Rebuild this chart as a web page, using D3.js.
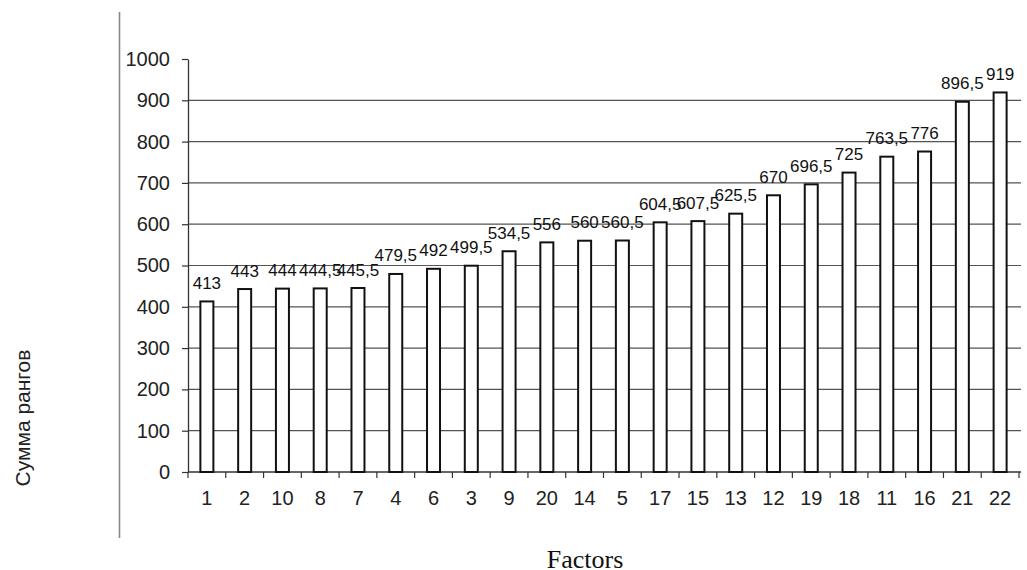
<!DOCTYPE html>
<html>
<head>
<meta charset="utf-8">
<script src="https://d3js.org/d3.v7.min.js"></script>
<style>
  body { margin: 0; background: #fff; }
  svg { display: block; }
</style>
</head>
<body>
<svg id="chart" width="1027" height="570"></svg>
<script>
// Factor numbers, ordered by rank sum
const factors = ["1","2","10","8","7","4","6","3","9","20","14","5","17","15","13","12","19","18","11","16","21","22"];
// Rank sums for each factor
const rankSums = [413, 443, 444, 444.5, 445.5, 479.5, 492, 499.5, 534.5, 556, 560, 560.5, 604.5, 607.5, 625.5, 670, 696.5, 725, 763.5, 776, 896.5, 919];
// Value-axis ticks
const yTicks = [0, 100, 200, 300, 400, 500, 600, 700, 800, 900, 1000];

const svg = d3.select("#chart");
const plotLeft = 188, plotRight = 1019, plotTop = 59, plotBottom = 472;
const sans = "Liberation Sans, Arial, sans-serif";

const x = d3.scaleBand().domain(factors).range([plotLeft, plotRight]);
const y = d3.scaleLinear().domain([0, 1000]).range([plotBottom, plotTop]);
const cx = f => x(f) + x.bandwidth() / 2;

const fmt = v => String(v).replace(".", ",");

// Outer frame line on the left
svg.append("line")
  .attr("x1", 119.5).attr("x2", 119.5).attr("y1", 12).attr("y2", 538)
  .attr("stroke", "#888").attr("stroke-width", 1.6);

// Horizontal gridlines
svg.append("g").selectAll("line").data(yTicks.filter(t => t > 0 && t < 1000)).join("line")
  .attr("x1", plotLeft).attr("x2", plotRight + 2)
  .attr("y1", d => y(d)).attr("y2", d => y(d))
  .attr("stroke", "#555").attr("stroke-width", 1.2);

// Y axis
const yAxis = d3.axisLeft(y).tickValues(yTicks).tickSize(6).tickSizeOuter(0).tickPadding(12).tickFormat(d3.format("d"));
const gy = svg.append("g").attr("transform", `translate(${plotLeft},0)`).call(yAxis);
gy.select(".domain").attr("stroke", "#333").attr("stroke-width", 1.3);
gy.selectAll(".tick line").attr("stroke", "#333").attr("stroke-width", 1.2);
gy.selectAll("text").attr("font-family", sans)
  .attr("font-size", 20).attr("fill", "#222");

// Baseline
svg.append("line")
  .attr("x1", plotLeft).attr("x2", plotRight + 2).attr("y1", y(0)).attr("y2", y(0))
  .attr("stroke", "#333").attr("stroke-width", 1.3);

// Category tick marks at band edges
const edges = factors.map(f => x(f)).concat([plotRight]);
svg.append("g").selectAll("line").data(edges).join("line")
  .attr("x1", d => d).attr("x2", d => d)
  .attr("y1", y(0)).attr("y2", y(0) + 6)
  .attr("stroke", "#333").attr("stroke-width", 1.2);

// Category labels
svg.append("g").selectAll("text").data(factors).join("text")
  .attr("x", d => cx(d))
  .attr("y", 505)
  .attr("text-anchor", "middle")
  .attr("font-family", sans)
  .attr("font-size", 20).attr("fill", "#222")
  .text(d => d);

// Bars
svg.append("g").selectAll("rect").data(rankSums).join("rect")
  .attr("x", (d, i) => cx(factors[i]) - 6.5)
  .attr("width", 13)
  .attr("y", d => y(d))
  .attr("height", d => y(0) - y(d))
  .attr("fill", "#fff").attr("stroke", "#111").attr("stroke-width", 2);

// Value labels
svg.append("g").selectAll("text").data(rankSums).join("text")
  .attr("x", (d, i) => cx(factors[i]))
  .attr("y", d => y(d) - 12.5)
  .attr("text-anchor", "middle")
  .attr("font-family", sans)
  .attr("font-size", 17).attr("fill", "#111")
  .text(d => fmt(d));

// Axis titles
svg.append("text")
  .attr("transform", "translate(30,418) rotate(-90)")
  .attr("text-anchor", "middle")
  .attr("font-family", sans)
  .attr("font-size", 21).attr("fill", "#222")
  .text("Сумма рангов");

svg.append("text")
  .attr("x", 585).attr("y", 568)
  .attr("text-anchor", "middle")
  .attr("font-family", "Liberation Serif, Times New Roman, serif")
  .attr("font-size", 26).attr("fill", "#111")
  .text("Factors");
</script>
</body>
</html>
